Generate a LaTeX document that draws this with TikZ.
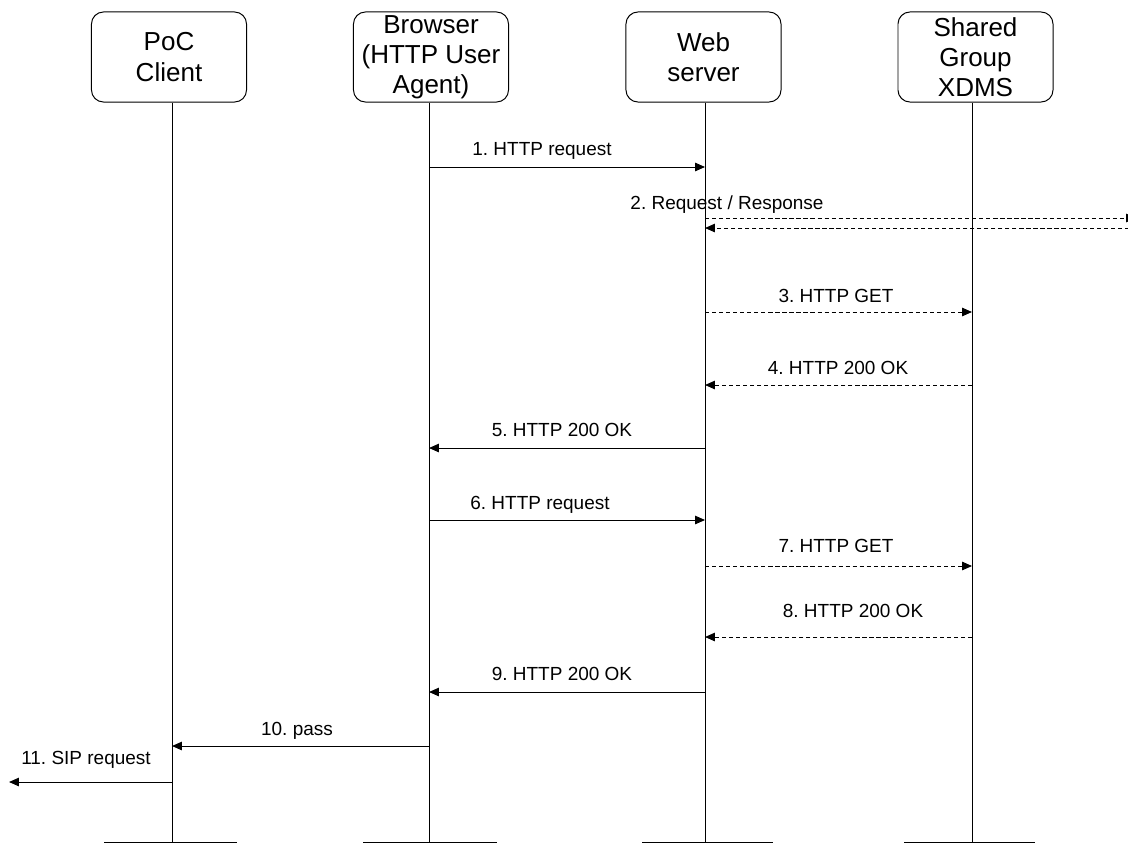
\documentclass[tikz,border=0pt]{standalone}
\usepackage{fontspec}
\setmainfont{Liberation Sans}
\usetikzlibrary{arrows.meta}
\frenchspacing
\begin{document}
\begin{tikzpicture}[x=0.025cm, y=-0.025cm, line width=0.7pt,
    actor/.style={draw, rounded corners=0.3cm, minimum width=3.875cm, minimum height=2.25cm,
        inner sep=0pt, align=center, font=\fontsize{18.5}{21.5}\selectfont},
    msg/.style={-{Triangle[length=7pt,width=6pt]}},
    reply/.style={msg, dash pattern=on 3pt off 2pt},
    lbl/.style={anchor=base, font=\fontsize{13.5}{16}\selectfont}]
    \path[clip] (0,0) rectangle (1128,843);

    %actors
    \node[actor] (poc) at (169,57) {PoC\\Client};
    \node[actor] (browser) at (431,57) {Browser\\(HTTP User\\Agent)};
    \node[actor] (web) at (703.5,57) {Web\\server};
    \node[actor] (xdms) at (975.5,57) {Shared\\Group\\XDMS};

    %lifelines
    \coordinate (pocB) at (172,842);
    \coordinate (browserB) at (429,842);
    \coordinate (webB) at (705,842);
    \coordinate (xdmsB) at (972,842);
    \coordinate (out) at (1136,842);
    \coordinate (left) at (9,842);
    \draw (poc.south -| pocB) -- (pocB);
    \draw (browser.south -| browserB) -- (browserB);
    \draw (web.south -| webB) -- (webB);
    \draw (xdms.south -| xdmsB) -- (xdmsB);
    \draw (104,842) -- (237,842);
    \draw (363,842) -- (497,842);
    \draw (642,842) -- (773,842);
    \draw (904,842) -- (1035,842);

    %messages
    \draw[msg] (browserB |- 0,167) -- (webB |- 0,167);
    \node[lbl] (m1) at (542,155) {1. HTTP request};
    \draw[reply] (webB |- 0,218) -- (out |- 0,218);
    \draw[reply] (out |- 0,228) -- (webB |- 0,228);
    \node[lbl] (m2) at (727,209) {2. Request / Response};
    \draw[reply] (webB |- 0,312) -- (xdmsB |- 0,312);
    \node[lbl] (m3) at (836,302) {3. HTTP GET};
    \draw[reply] (xdmsB |- 0,385) -- (webB |- 0,385);
    \node[lbl] (m4) at (838,374) {4. HTTP 200 OK};
    \draw[msg] (webB |- 0,448) -- (browserB |- 0,448);
    \node[lbl] (m5) at (562,436) {5. HTTP 200 OK};
    \draw[msg] (browserB |- 0,520) -- (webB |- 0,520);
    \node[lbl] (m6) at (540,509) {6. HTTP request};
    \draw[reply] (webB |- 0,566) -- (xdmsB |- 0,566);
    \node[lbl] (m7) at (836,552) {7. HTTP GET};
    \draw[reply] (xdmsB |- 0,637) -- (webB |- 0,637);
    \node[lbl] (m8) at (853,617) {8. HTTP 200 OK};
    \draw[msg] (webB |- 0,692) -- (browserB |- 0,692);
    \node[lbl] (m9) at (562,680) {9. HTTP 200 OK};
    \draw[msg] (browserB |- 0,746) -- (pocB |- 0,746);
    \node[lbl] (m10) at (297,735) {10. pass};
    \draw[msg] (pocB |- 0,782) -- (left |- 0,782);
    \node[lbl] (m11) at (86,764) {11. SIP request};
\end{tikzpicture}
\end{document}
